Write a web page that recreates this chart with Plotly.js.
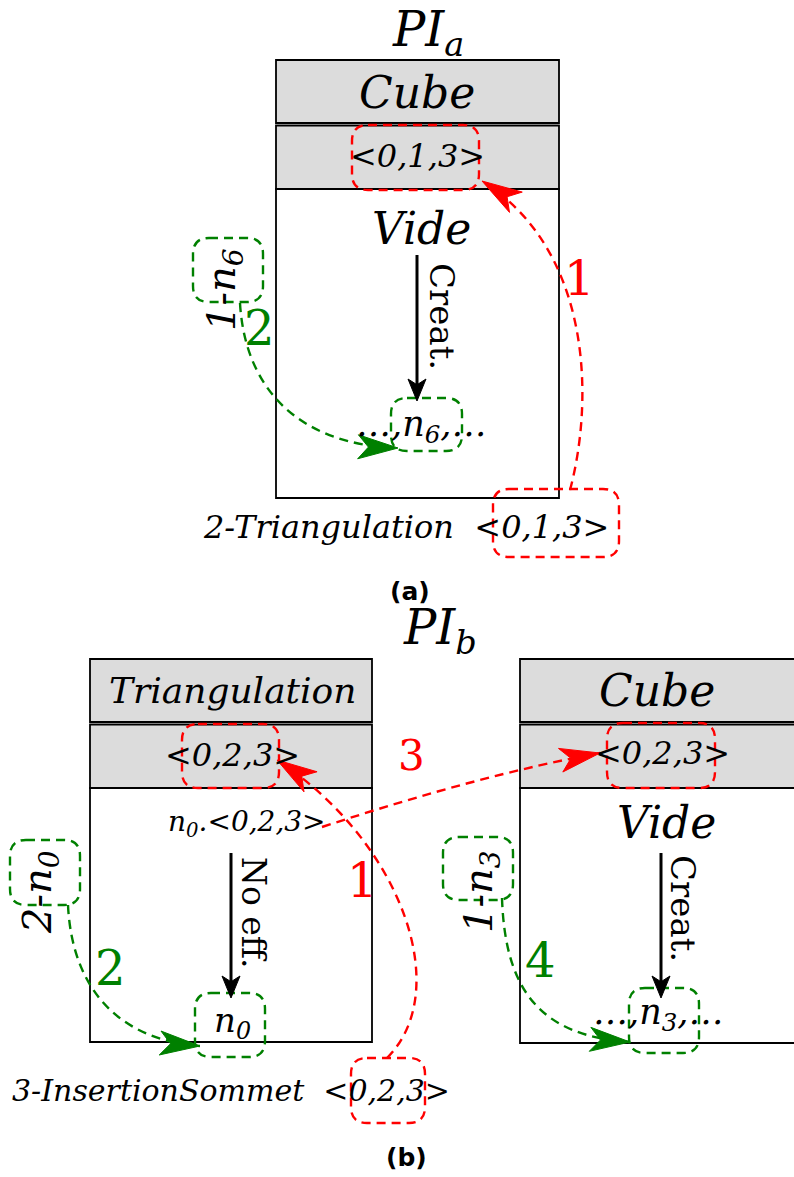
<!DOCTYPE html>
<html><head><meta charset="utf-8">
<script src="https://cdn.plot.ly/plotly-3.0.1.min.js"></script>
<style>html,body{margin:0;padding:0;background:#fff}#chart{width:794px;height:1177px}</style>
</head><body><div id="chart"></div>
<script>
// ---------------- content (text of the diagram) ----------------
const panelTitles = ['PI<sub>a</sub>', 'PI<sub>b</sub>'];
const panelCaptions = ['(a)', '(b)'];
const headerLabels = ['Cube', 'Triangulation', 'Cube'];
const tupleLabels = ['&lt;0,1,3&gt;', '&lt;0,2,3&gt;', '&lt;0,2,3&gt;'];
const stateLabels = ['Vide', 'n<sub>0</sub>.&lt;0,2,3&gt;', 'Vide'];
const actionLabels = ['Creat.', 'No eff.', 'Creat.'];
const resultLabels = ['…,n<sub>6</sub>,…', 'n<sub>0</sub>', '…,n<sub>3</sub>,…'];
const nodeLabels = ['1-n<sub>6</sub>', '2-n<sub>0</sub>', '1-n<sub>3</sub>'];
const operationLabels = ['2-Triangulation &nbsp;&lt;0,1,3&gt;', '3-InsertionSommet &nbsp;&lt;0,2,3&gt;'];
const stepNumbers = ['1', '2', '1', '2', '3', '4'];

// ---------------- geometry & style ----------------
const RED = 'rgb(255,0,0)', GREEN = 'rgb(0,128,0)', GREY = '#dcdcdc';
const SERIF = 'DejaVu Serif', SANS = 'DejaVu Sans';
const boxes = [
  {x0:276, x1:559, y0:60,  hb:123, rb:189, y1:498},
  {x0:90,  x1:372, y0:659, hb:722, rb:788, y1:1042},
  {x0:520, x1:797, y0:659, hb:722, rb:788, y1:1043}
];
const titlePos = [[428, 32, 48], [440, 630, 48]];
const captionPos = [[410, 591, 25], [406, 1157, 25]];
const headerPos = [[417, 92, 44], [232, 690, 36], [657, 690, 44]];
const tuplePos = [[417, 156, 32], [232, 755, 32], [662, 753, 32]];
const statePos = [[421, 228, 44], [247, 823, 28], [666, 822, 44]];
const actionPos = [[442, 316, 34], [254, 913, 33], [683, 908, 34]];
const resultPos = [[421, 426, 35], [232, 1022, 34], [658, 1014, 35]];
const nodePos = [[224, 290, 40], [40, 892, 40], [481, 892, 40]];
const operationPos = [[406, 527, 32], [231, 1090, 30]];
const stepPos = [[579, 278, 48, RED], [259, 328, 48, GREEN], [362, 880, 48, RED],
                 [110, 968, 48, GREEN], [411, 755, 42, RED], [540, 960, 48, GREEN]];
const blackArrows = [[417, 255, 401], [231, 853, 998], [661, 853, 998]];
const dashedBoxes = [
  [352, 125, 479, 190, RED], [493, 489, 619, 557, RED],
  [193, 238, 263, 302, GREEN], [391, 398, 462, 451, GREEN],
  [182, 724, 279, 788, RED], [351, 1058, 425, 1123, RED], [607, 723, 715, 788, RED],
  [10, 840, 80, 905, GREEN], [195, 993, 265, 1057, GREEN],
  [443, 837, 513, 900, GREEN], [629, 988, 699, 1053, GREEN]
];
// curves: [start, ctrl1, ctrl2, end] (cubic) or [start, ctrl, end] (quadratic)
const curves = [
  [[[570, 490], [594, 400], [592, 250], [482, 181]], RED],
  [[[240, 303], [245, 390], [300, 445], [398, 448]], GREEN],
  [[[387, 1058], [455, 990], [400, 840], [277, 760]], RED],
  [[[322, 827], [480, 775], [600, 753]], RED],
  [[[68, 905], [72, 990], [120, 1040], [200, 1046]], GREEN],
  [[[502, 898], [505, 990], [540, 1036], [630, 1042]], GREEN]
];

// ---------------- build ----------------
const shapes = [];
const annotations = [];
const W = 794, H = 1177;

function rect(x0, y0, x1, y1, fill, lw) {
  shapes.push({type:'rect', xref:'x', yref:'y', x0, y0, x1, y1, fillcolor:fill,
    line:{color:'#000', width:lw}, layer:'below'});
}
boxes.forEach(b => {
  rect(b.x0, b.rb, b.x1, b.y1, '#fff', 1.8);
  rect(b.x0, b.y0, b.x1, b.hb, GREY, 1.8);
  rect(b.x0, b.hb + 2.5, b.x1, b.rb, GREY, 1.8);
});

function roundRect(x0, y0, x1, y1, r) {
  return `M ${x0 + r} ${y0} L ${x1 - r} ${y0} Q ${x1} ${y0} ${x1} ${y0 + r} L ${x1} ${y1 - r} ` +
         `Q ${x1} ${y1} ${x1 - r} ${y1} L ${x0 + r} ${y1} Q ${x0} ${y1} ${x0} ${y1 - r} ` +
         `L ${x0} ${y0 + r} Q ${x0} ${y0} ${x0 + r} ${y0} Z`;
}
const DASH = '9px,6px';
dashedBoxes.forEach(([x0, y0, x1, y1, c]) => {
  shapes.push({type:'path', xref:'x', yref:'y', path: roundRect(x0, y0, x1, y1, 16),
    line:{color:c, width:2.4, dash:DASH}, fillcolor:'rgba(0,0,0,0)', layer:'above'});
});

function stealth(tip, from, len, hw, color) {
  let dx = tip[0] - from[0], dy = tip[1] - from[1];
  const d = Math.hypot(dx, dy); dx /= d; dy /= d;
  const nx = -dy, ny = dx;
  const bx = tip[0] - dx * len, by = tip[1] - dy * len;
  const mx = tip[0] - dx * len * 0.74, my = tip[1] - dy * len * 0.74;
  const p = `M ${tip[0]} ${tip[1]} L ${bx + nx * hw} ${by + ny * hw} L ${mx} ${my} L ${bx - nx * hw} ${by - ny * hw} Z`;
  shapes.push({type:'path', xref:'x', yref:'y', path:p, fillcolor:color,
    line:{color:color, width:1}, layer:'above'});
}

curves.forEach(([pts, c]) => {
  let p;
  if (pts.length === 4) p = `M ${pts[0][0]} ${pts[0][1]} C ${pts[1][0]} ${pts[1][1]}, ${pts[2][0]} ${pts[2][1]}, ${pts[3][0]} ${pts[3][1]}`;
  else p = `M ${pts[0][0]} ${pts[0][1]} Q ${pts[1][0]} ${pts[1][1]}, ${pts[2][0]} ${pts[2][1]}`;
  shapes.push({type:'path', xref:'x', yref:'y', path:p, line:{color:c, width:2.4, dash:DASH}, layer:'above'});
  const end = pts[pts.length - 1], prev = pts[pts.length - 2];
  stealth(end, prev, 40, 12, c);
});

blackArrows.forEach(([x, yA, yB]) => {
  shapes.push({type:'line', xref:'x', yref:'y', x0:x, x1:x, y0:yA, y1:yB - 14, line:{color:'#000', width:3}, layer:'above'});
  stealth([x, yB], [x, yA], 22, 9, '#000');
});

function ann(x, y, text, size, opt = {}) {
  annotations.push(Object.assign({x, y, xref:'x', yref:'y', text, showarrow:false,
    xanchor:'center', yanchor:'middle',
    font:{family: opt.family || SERIF, size, color: opt.color || '#000'}}, opt.extra || {}));
}
const it = s => '<i>' + s + '</i>';

panelTitles.forEach((t, i) => ann(titlePos[i][0], titlePos[i][1], it(t), titlePos[i][2]));
panelCaptions.forEach((t, i) => ann(captionPos[i][0], captionPos[i][1], '<b>' + t + '</b>', captionPos[i][2], {family:SANS}));
headerLabels.forEach((t, i) => ann(headerPos[i][0], headerPos[i][1], it(t), headerPos[i][2]));
tupleLabels.forEach((t, i) => ann(tuplePos[i][0], tuplePos[i][1], it(t), tuplePos[i][2]));
stateLabels.forEach((t, i) => ann(statePos[i][0], statePos[i][1], it(t), statePos[i][2]));
actionLabels.forEach((t, i) => ann(actionPos[i][0], actionPos[i][1], t, actionPos[i][2], {extra:{textangle:90}}));
resultLabels.forEach((t, i) => ann(resultPos[i][0], resultPos[i][1], it(t), resultPos[i][2]));
nodeLabels.forEach((t, i) => ann(nodePos[i][0], nodePos[i][1], it(t), nodePos[i][2], {extra:{textangle:-90}}));
operationLabels.forEach((t, i) => ann(operationPos[i][0], operationPos[i][1], it(t), operationPos[i][2]));
stepNumbers.forEach((t, i) => ann(stepPos[i][0], stepPos[i][1], t, stepPos[i][2], {color: stepPos[i][3]}));

const layout = {
  width: W, height: H, margin:{l:0, r:0, t:0, b:0},
  paper_bgcolor:'#fff', plot_bgcolor:'#fff', showlegend:false,
  font:{family:SERIF, size:14, color:'#000'},
  xaxis:{range:[0, W], visible:false, fixedrange:true},
  yaxis:{range:[H, 0], visible:false, fixedrange:true},
  shapes, annotations
};
Plotly.newPlot('chart', [], layout, {staticPlot:true, displayModeBar:false});
</script>
</body></html>
